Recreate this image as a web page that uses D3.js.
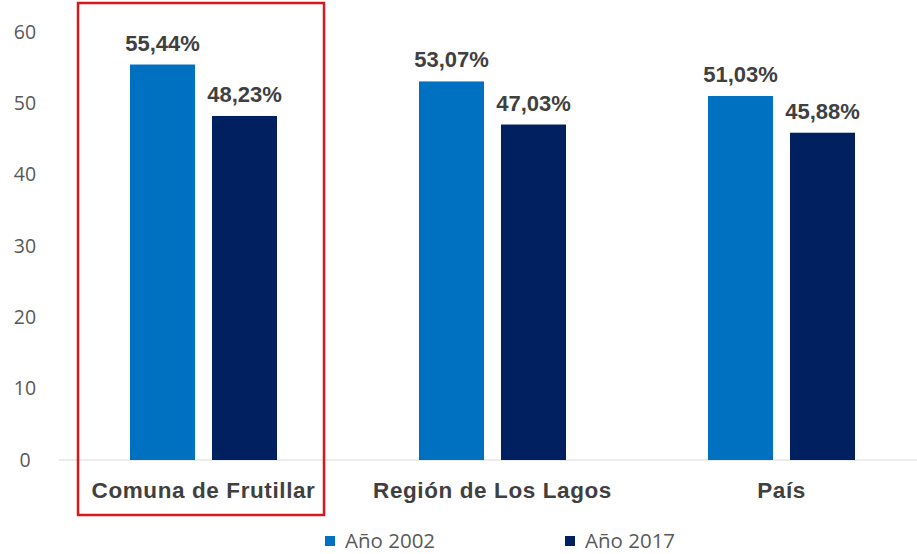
<!DOCTYPE html>
<html>
<head>
<meta charset="utf-8">
<script src="https://cdn.jsdelivr.net/npm/d3@7"></script>
<style>
  body { margin: 0; background: #fff; }
</style>
</head>
<body>
<svg id="svg" width="917" height="554"></svg>
<script>
const categories = ["Comuna de Frutillar", "Región de Los Lagos", "País"];
const series = ["Año 2002", "Año 2017"];
const values2002 = [55.44, 53.07, 51.03];
const values2017 = [48.23, 47.03, 45.88];
const yTicks = [0, 10, 20, 30, 40, 50, 60];
const colors = ["#0070c0", "#002060"];

const svg = d3.select("#svg");

const x = d3.scaleBand().domain(categories).range([59, 926]);
const xs = d3.scaleBand().domain(series).range([0, x.bandwidth()]).paddingInner(0.207).paddingOuter(0.866);
const y = d3.scaleLinear().domain([0, 60]).range([460, 32]);

// y axis labels
svg.append("g").selectAll("text").data(yTicks).enter().append("text")
  .attr("x", 25).attr("y", d => y(d)).attr("dy", "0.35em")
  .attr("text-anchor", "middle")
  .attr("font-family", "Open Sans, sans-serif").attr("font-size", 19.5)
  .attr("fill", "#595959")
  .text(d => d);

// baseline
svg.append("line").attr("x1", 59).attr("x2", 917).attr("y1", y(0)).attr("y2", y(0))
  .attr("stroke", "#d9d9d9").attr("stroke-width", 1);

const rows = categories.map((c, i) => ({ cat: c, vals: [values2002[i], values2017[i]] }));

const groups = svg.append("g").selectAll("g").data(rows).enter().append("g")
  .attr("transform", d => "translate(" + x(d.cat) + ",0)");

groups.selectAll("rect").data(d => d.vals.map((v, j) => ({ s: series[j], v: v, j: j })))
  .enter().append("rect")
  .attr("x", d => xs(d.s))
  .attr("y", d => y(d.v))
  .attr("width", xs.bandwidth())
  .attr("height", d => y(0) - y(d.v))
  .attr("fill", d => colors[d.j]);

groups.selectAll("text.val").data(d => d.vals.map((v, j) => ({ s: series[j], v: v })))
  .enter().append("text")
  .attr("class", "val")
  .attr("x", d => xs(d.s) + xs.bandwidth() / 2)
  .attr("y", d => y(d.v) - 14)
  .attr("text-anchor", "middle")
  .attr("font-family", "Liberation Sans, Arial, sans-serif").attr("font-weight", "bold")
  .attr("font-size", 22).attr("fill", "#404040")
  .text(d => d.v.toFixed(2).replace(".", ",") + "%");

// category labels
svg.append("g").selectAll("text").data(categories).enter().append("text")
  .attr("x", d => x(d) + x.bandwidth() / 2)
  .attr("y", 498)
  .attr("text-anchor", "middle")
  .attr("font-family", "Liberation Sans, Arial, sans-serif").attr("font-weight", "bold")
  .attr("font-size", 22.5).attr("letter-spacing", 0.6).attr("fill", "#404040")
  .text(d => d);

// red highlight box
svg.append("rect").attr("x", 78).attr("y", 3).attr("width", 246).attr("height", 512)
  .attr("fill", "none").attr("stroke", "#d7191c").attr("stroke-width", 2.5);

// legend
const legendX = [325, 565];
const legend = svg.append("g").selectAll("g").data(series).enter().append("g")
  .attr("transform", (d, i) => "translate(" + legendX[i] + ",536)");
legend.append("rect").attr("width", 10).attr("height", 10).attr("fill", (d, i) => colors[i]);
legend.append("text").attr("x", 20).attr("y", 5).attr("dy", "0.35em")
  .attr("font-family", "Open Sans, sans-serif").attr("font-size", 20.5).attr("fill", "#595959")
  .text(d => d);
</script>
</body>
</html>
